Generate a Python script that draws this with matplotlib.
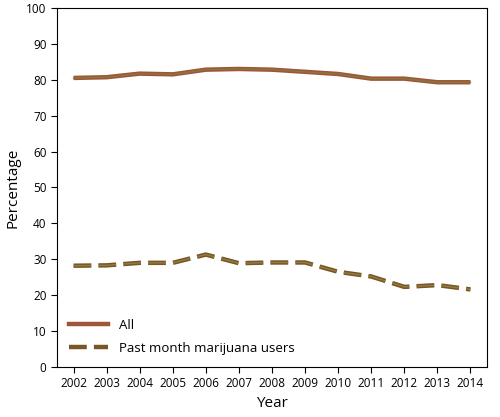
import matplotlib
matplotlib.use("Agg")
import matplotlib.pyplot as plt
from matplotlib.lines import Line2D

years = list(range(2002, 2015))
all_vals = [80.5, 80.7, 81.7, 81.5, 82.8, 83.0, 82.8, 82.2, 81.6, 80.3, 80.3, 79.3, 79.3]
mj_vals = [28.2, 28.3, 29.0, 29.0, 31.3, 28.9, 29.1, 29.1, 26.5, 25.2, 22.3, 22.8, 21.6]

plt.rcParams['font.family'] = ['Open Sans', 'DejaVu Sans']
fig = plt.figure(figsize=(5.0, 4.17), dpi=100)
ax = fig.add_axes([0.114, 0.12, 0.86, 0.861])

ax.plot(years, all_vals, color='#a0553a', lw=3.2, solid_capstyle='butt')
ax.plot(years, all_vals, color='#857a3a', lw=1.0)
ax.plot(years, mj_vals, color='#7a5526', lw=3.2, dashes=(4, 1.6), dash_capstyle='butt')
ax.plot(years, mj_vals, color='#8f7f3f', lw=1.0, dashes=(12.8, 5.12))

ax.set_xlim(2001.5, 2014.5)
ax.set_ylim(0, 100)
ax.set_xticks(years)
ax.set_yticks(range(0, 101, 10))
ax.tick_params(labelsize=8.5, direction='out', length=4)
ax.set_xlabel('Year', fontsize=11)
ax.set_ylabel('Percentage', fontsize=11)

h1 = Line2D([], [], color='#a0553a', lw=3.2)
h2 = Line2D([], [], color='#7a5526', lw=3.2, dashes=(4, 1.6))
ax.legend([h1, h2], ['All', 'Past month marijuana users'], loc='lower left',
          bbox_to_anchor=(0.0, 0.0), frameon=False, fontsize=9.5, handlelength=3,
          labelspacing=0.8)

fig.savefig('out.png', dpi=100)
